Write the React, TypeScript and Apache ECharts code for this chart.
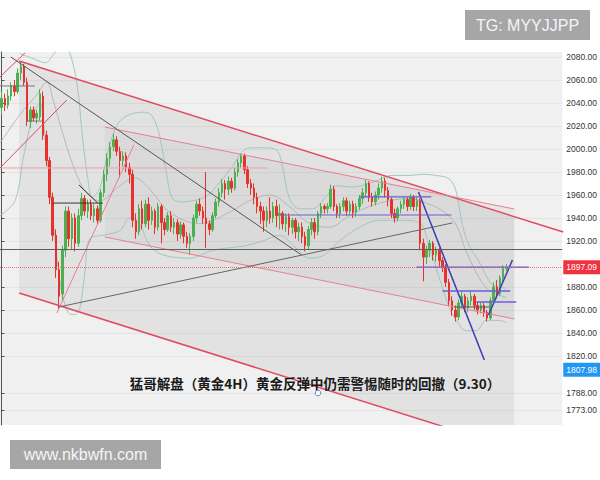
import React, { useEffect, useRef } from "react";
import * as echarts from "echarts";

// ---------- data ----------
const yTickLabels = [2080, 2060, 2040, 2020, 2000, 1980, 1960, 1940, 1920, 1880, 1860, 1840, 1820, 1788, 1773];
const lastPrice = 1897.09;
const alertPrice = 1807.98;
const supportLevel = 1913;
const categoryCount = 176;
const categories = Array.from({ length: categoryCount }, (_, i) => String(i));

// [open, close, low, high]
const candles: number[][] = [
  [2036, 2044, 2030, 2050], [2044, 2038, 2033, 2048], [2038, 2046, 2035, 2052], [2046, 2055, 2042, 2058],
  [2055, 2050, 2046, 2060], [2050, 2066, 2048, 2070], [2066, 2072, 2060, 2076], [2072, 2058, 2055, 2074],
  [2058, 2024, 2020, 2062], [2024, 2034, 2018, 2037], [2034, 2027, 2024, 2037], [2027, 2031, 2022, 2034],
  [2028, 2048, 2025, 2052], [2046, 2012, 2008, 2050], [2012, 1990, 1985, 2016], [1990, 1958, 1952, 1993],
  [1958, 1925, 1920, 1962], [1925, 1895, 1888, 1930], [1895, 1872, 1860, 1902], [1874, 1912, 1868, 1916],
  [1912, 1946, 1906, 1950], [1946, 1922, 1915, 1950], [1922, 1940, 1912, 1944], [1940, 1918, 1911, 1944],
  [1918, 1942, 1915, 1948], [1942, 1957, 1938, 1962], [1957, 1946, 1942, 1960], [1946, 1952, 1940, 1956],
  [1952, 1942, 1938, 1956], [1942, 1948, 1936, 1952], [1948, 1938, 1934, 1951], [1938, 1962, 1936, 1965],
  [1962, 1978, 1958, 1982], [1978, 1992, 1972, 1996], [1992, 2002, 1985, 2006], [2002, 2008, 1998, 2013],
  [2008, 1998, 1994, 2011], [1998, 1990, 1975, 2002], [1990, 1994, 1985, 1998], [1994, 1984, 1980, 1997],
  [1984, 1978, 1970, 1988], [1978, 1938, 1932, 1982], [1938, 1928, 1922, 1944], [1928, 1948, 1925, 1952],
  [1948, 1935, 1930, 1955], [1935, 1952, 1932, 1956], [1952, 1938, 1930, 1958], [1938, 1946, 1934, 1950],
  [1946, 1932, 1926, 1948], [1932, 1950, 1929, 1953], [1950, 1936, 1918, 1952], [1936, 1930, 1925, 1940],
  [1930, 1942, 1928, 1945], [1942, 1932, 1928, 1946], [1932, 1936, 1926, 1940], [1936, 1926, 1920, 1939],
  [1926, 1934, 1922, 1937], [1934, 1924, 1918, 1936], [1924, 1918, 1914, 1928], [1918, 1924, 1908, 1927],
  [1924, 1940, 1920, 1943], [1940, 1952, 1936, 1955], [1952, 1946, 1942, 1957], [1946, 1940, 1935, 1950],
  [1940, 1935, 1914, 1980], [1935, 1930, 1925, 1938], [1930, 1942, 1928, 1945], [1942, 1954, 1940, 1957],
  [1954, 1962, 1950, 1966], [1962, 1970, 1958, 1974], [1970, 1965, 1956, 1973], [1965, 1972, 1960, 1976],
  [1972, 1966, 1962, 1975], [1966, 1980, 1964, 1984], [1980, 1988, 1976, 1991], [1988, 1994, 1984, 1996],
  [1994, 1982, 1978, 1996], [1982, 1970, 1966, 1985], [1970, 1966, 1960, 1974], [1966, 1958, 1952, 1970],
  [1958, 1950, 1944, 1962], [1950, 1946, 1935, 1954], [1946, 1938, 1928, 1950], [1938, 1946, 1932, 1950],
  [1946, 1940, 1935, 1958], [1940, 1950, 1936, 1954], [1950, 1942, 1932, 1956], [1942, 1944, 1930, 1952],
  [1944, 1935, 1930, 1946], [1935, 1941, 1928, 1944], [1941, 1932, 1925, 1944], [1932, 1938, 1926, 1940],
  [1938, 1928, 1922, 1940], [1928, 1932, 1920, 1936], [1932, 1924, 1918, 1936], [1924, 1916, 1911, 1928],
  [1916, 1930, 1913, 1933], [1930, 1936, 1925, 1940], [1936, 1928, 1922, 1940], [1928, 1944, 1925, 1946],
  [1944, 1950, 1940, 1953], [1950, 1948, 1944, 1952], [1948, 1950, 1944, 1953], [1950, 1965, 1948, 1969],
  [1965, 1950, 1946, 1968], [1950, 1944, 1940, 1952], [1944, 1950, 1940, 1953], [1950, 1955, 1946, 1958],
  [1955, 1946, 1942, 1958], [1946, 1952, 1943, 1955], [1952, 1945, 1940, 1955], [1945, 1950, 1941, 1953],
  [1950, 1957, 1947, 1960], [1957, 1962, 1952, 1966], [1962, 1970, 1958, 1973], [1970, 1958, 1954, 1972],
  [1958, 1954, 1950, 1962], [1954, 1960, 1951, 1963], [1960, 1966, 1956, 1970], [1966, 1972, 1962, 1976],
  [1972, 1964, 1958, 1975], [1964, 1956, 1950, 1967], [1956, 1944, 1940, 1958], [1944, 1940, 1936, 1948],
  [1940, 1948, 1937, 1950], [1948, 1952, 1944, 1955], [1952, 1956, 1948, 1958], [1956, 1950, 1946, 1958],
  [1950, 1958, 1947, 1961], [1958, 1950, 1946, 1960], [1950, 1955, 1946, 1958], [1955, 1918, 1912, 1957],
  [1918, 1906, 1885, 1922], [1906, 1912, 1900, 1916], [1912, 1918, 1906, 1921], [1918, 1908, 1903, 1920],
  [1908, 1912, 1902, 1915], [1912, 1903, 1898, 1914], [1903, 1898, 1893, 1906], [1898, 1884, 1880, 1900],
  [1884, 1868, 1864, 1887], [1868, 1860, 1855, 1872], [1860, 1854, 1850, 1864], [1854, 1866, 1851, 1869],
  [1866, 1872, 1862, 1876], [1872, 1862, 1858, 1874], [1862, 1868, 1858, 1871], [1868, 1872, 1864, 1876],
  [1872, 1864, 1860, 1874], [1864, 1860, 1856, 1867], [1860, 1864, 1857, 1867], [1864, 1858, 1854, 1866],
  [1858, 1853, 1850, 1860], [1853, 1868, 1851, 1871], [1868, 1880, 1865, 1884], [1880, 1874, 1870, 1886],
  [1874, 1888, 1872, 1890], [1888, 1896, 1885, 1899], [1896, 1897.09, 1894, 1900],
];

// Bollinger-style bands: [bar index, price]
const upperBand: number[][] = [
  [5.75, 2083], [10.4, 2078], [13.6, 2075], [16.4, 2083], [18.9, 2095], [21.4, 2083], [23.6, 2057], [25.4, 2008],
  [27, 1974], [28.3, 1958], [30.8, 1966], [33.3, 1998], [36.4, 2022], [40.1, 2030], [44.8, 2032], [47.3, 2028],
  [49.5, 2011], [51.7, 1977], [53.3, 1958], [55.8, 1954], [59.8, 1955], [64.2, 1959], [68.3, 1971], [72.3, 1985],
  [75.1, 1997], [77.6, 2001], [82.3, 2001], [86.1, 1999], [87.9, 1985], [90.1, 1957], [93.3, 1948], [97.3, 1948],
  [101.7, 1959], [104.8, 1968], [109.8, 1967], [116.1, 1971], [122.3, 1977], [127.6, 1977], [131.7, 1978],
  [136.1, 1977], [140.1, 1974], [142.3, 1963], [144.2, 1934], [146.4, 1916], [149.5, 1902], [151.7, 1890],
  [153.6, 1882], [158, 1879],
];
const middleBand: number[][] = [
  [-0.5, 2005], [5.75, 2030], [10.4, 2045], [14.2, 2058], [16.1, 2043], [20.4, 2002], [24.5, 1971], [27.6, 1959],
  [30.75, 1955], [37, 1968], [41.7, 1975], [46.4, 1965], [52.6, 1945], [62, 1935], [71.4, 1945], [77.6, 1955],
  [83.9, 1960], [90.1, 1950], [96.4, 1935], [102.6, 1932], [108.9, 1942], [115.1, 1950], [121.4, 1955],
  [127.6, 1957], [133.9, 1952], [138.6, 1945], [142.3, 1934], [145.4, 1911], [149.5, 1888], [152.6, 1877], [158, 1871],
];
const lowerBand: number[][] = [
  [-0.5, 1942], [4.2, 1955], [6.7, 1991], [8.9, 2020], [10.4, 2034], [12, 2040], [13.6, 2010], [15.75, 1950],
  [18.25, 1885], [20.75, 1858], [22.9, 1856], [24.5, 1862], [26.1, 1894], [27.6, 1922], [31.7, 1925], [37, 1929],
  [40.1, 1940], [43.25, 1934], [46.4, 1916], [50.4, 1908], [58.9, 1905], [66.1, 1912], [76.7, 1916], [81.7, 1920],
  [87, 1925], [91.7, 1915], [96.4, 1905], [101.1, 1908], [105.75, 1920], [112, 1932], [118.25, 1938], [124.5, 1938],
  [130.75, 1936], [133.9, 1915], [137, 1888], [140.1, 1862], [142.3, 1851], [145.4, 1842], [148.6, 1842],
  [151.7, 1851], [155.75, 1851], [158, 1849],
];

// drawn annotations: [bar index, price]
const outerChannelArea = [[5.5, 2076.5], [160.5, 1941.2], [160.5, 1760], [136.7, 1760], [5.5, 1874.8]];
const innerChannelArea = [[32.3, 2019.1], [160.5, 1947.8], [160.5, 1852.2], [32.3, 1923.5]];
const outerChannelTop = [[5.5, 2076.5], [175.8, 1927.8]];
const outerChannelBottom = [[5.5, 1874.8], [145, 1752.7]];
const innerChannelTop = [[32.3, 2019.1], [160.5, 1947.8]];
const innerChannelBottom = [[32.3, 1923.5], [160.5, 1852.2]];
const level1983 = [[-0.5, 1983.5], [83.3, 1983.5]];
const redRiseLeft = [[-0.5, 1983.5], [20.4, 2042.6]];
const redRiseMid = [[17.3, 1857.4], [41.4, 2003.5]];
const redSteepTop = [[-0.5, 2062.6], [7.3, 2083.5]];
const darkDown = [[2.9, 2080], [93.9, 1907.8]];
const darkUp = [[17.9, 1862.6], [141.1, 1935.7]];
const triangleBase = [[16.1, 1953], [31.7, 1953]];
const triangleTop = [[24.2, 1968.7], [30.1, 1953]];
const shortTop1 = [[-0.5, 2054.8], [10.4, 2054.8]];
const shortTop2 = [[7.9, 2024.3], [12.6, 2024.3]];
const blueDown = [[130.5, 1962.6], [151.1, 1816.5]];
const blueUp = [[152.4, 1855.7], [159.9, 1903.5]];
const purple1958 = [[112, 1958.3], [134.5, 1958.3]];
const purple1943 = [[87.9, 1942.6], [140.8, 1942.6]];
const purple1897 = [[129.9, 1897.09], [165.1, 1897.09]];
const purple1876 = [[138, 1876.5], [159.2, 1876.5]];
const purple1867 = [[148.6, 1867], [161.1, 1867]];
const purple1863 = [[141.7, 1862.6], [152.6, 1862.6]];

const titleText = "猛哥解盘（黄金4H）黄金反弹中仍需警惕随时的回撤（9.30）";
const tgText = "TG: MYYJJPP";
const siteText = "www.nkbwfn.com";

// ---------- styles ----------
const RED = "#e04a60";
const RED_LIGHT = "#e6808e";
const BLUE = "#3c3cb8";
const PURPLE = "#6a5fd0";
const AXIS_FONT = "'Liberation Sans Narrow', 'Liberation Sans', Arial, sans-serif";

function seg(data: number[][], color: string, width: number, z = 4, type: any = "solid") {
  return {
    type: "line",
    xAxisIndex: 1,
    yAxisIndex: 0,
    data,
    symbol: "none",
    silent: true,
    z,
    lineStyle: { color, width, type },
  };
}

function area(points: number[][], fill: string) {
  return {
    type: "custom",
    xAxisIndex: 1,
    yAxisIndex: 0,
    silent: true,
    clip: true,
    z: 1,
    data: [[0, 1900]],
    renderItem: (_p: any, api: any) => ({
      type: "polygon",
      shape: { points: points.map((pt) => api.coord(pt)) },
      style: { fill },
    }),
  };
}

function band(data: number[][], color: string) {
  return {
    type: "line",
    xAxisIndex: 1,
    yAxisIndex: 0,
    data,
    symbol: "none",
    smooth: 0.35,
    silent: true,
    z: 2,
    lineStyle: { color, width: 0.9 },
  };
}

export default function App() {
  const ref = useRef<HTMLDivElement>(null);
  useEffect(() => {
    if (!ref.current) return;
    const chart = echarts.init(ref.current, null, { renderer: "svg" });
    const priceTag = (bg: string) => ({
      show: true,
      position: "end",
      distance: 1,
      formatter: (p: any) => Number(p.value).toFixed(2),
      backgroundColor: bg,
      color: "#ffffff",
      padding: [3, 3, 2, 3],
      fontSize: 8.5,
      fontFamily: AXIS_FONT,
    });
    chart.setOption({
      animation: false,
      backgroundColor: "#ffffff",
      grid: {
        left: 0,
        right: 37,
        top: 52,
        bottom: 55,
        show: true,
        backgroundColor: "#f0f0f0",
        borderWidth: 0,
      },
      xAxis: [
        { type: "category", data: categories, show: false, boundaryGap: true },
        { type: "value", min: -0.5, max: categoryCount - 0.5, show: false },
      ],
      yAxis: {
        type: "value",
        position: "right",
        min: 1760,
        max: 2084.35,
        interval: 20,
        axisLine: { show: true, lineStyle: { color: "#555", width: 1 } },
        axisTick: { show: true, customValues: yTickLabels, length: 3, lineStyle: { color: "#555" } },
        axisLabel: {
          customValues: yTickLabels,
          formatter: (v: number) => v.toFixed(2),
          fontSize: 8.5,
          color: "#333",
          margin: 4,
          fontFamily: AXIS_FONT,
        },
        splitLine: { show: true, lineStyle: { color: "#e4e4e4", width: 1 } },
      },
      series: [
        area(outerChannelArea, "rgba(0,0,0,0.055)"),
        area(innerChannelArea, "rgba(0,0,0,0.035)"),
        band(upperBand, "#9cc3b9"),
        band(middleBand, "#b2b2b2"),
        band(lowerBand, "#9cc3b9"),
        {
          type: "candlestick",
          xAxisIndex: 0,
          yAxisIndex: 0,
          data: candles,
          barWidth: 2,
          z: 3,
          silent: true,
          itemStyle: {
            color: "#4caf50",
            color0: "#e8302c",
            borderColor: "#4caf50",
            borderColor0: "#e8302c",
            borderWidth: 1,
          },
          markLine: {
            symbol: ["none", "none"],
            silent: true,
            data: [
              { yAxis: supportLevel, lineStyle: { color: "#5e5e5e", width: 1.2, type: "solid" }, label: { show: false } },
              { yAxis: lastPrice, lineStyle: { color: "#e46f7d", width: 1, type: "dotted" }, label: priceTag("#f0313f") },
              { yAxis: alertPrice, lineStyle: { color: "rgba(0,0,0,0)", width: 0 }, label: priceTag("#2196f3") },
            ],
          },
        },
        seg(outerChannelTop, RED, 1.5),
        seg(outerChannelBottom, RED, 1.5),
        seg(innerChannelTop, RED_LIGHT, 1),
        seg(innerChannelBottom, RED_LIGHT, 1),
        seg(level1983, "#eaa1aa", 1),
        seg(redRiseLeft, RED, 1),
        seg(redRiseMid, RED_LIGHT, 1),
        seg(redSteepTop, RED, 1),
        seg(darkDown, "#555", 1),
        seg(darkUp, "#666", 1),
        seg(triangleBase, "#333", 1),
        seg(triangleTop, "#333", 1),
        seg(shortTop1, "#777", 1),
        seg(shortTop2, "#777", 1),
        seg(blueDown, BLUE, 1.5),
        seg(blueUp, BLUE, 1.5),
        seg(purple1958, PURPLE, 1.2),
        seg(purple1943, PURPLE, 1.2),
        seg(purple1897, PURPLE, 1.5),
        seg(purple1876, PURPLE, 1.5),
        seg(purple1867, PURPLE, 1.5),
        seg(purple1863, "#555", 1),
      ],
      graphic: [
        {
          type: "rect",
          shape: { x: 465, y: 10, width: 125, height: 30 },
          style: { fill: "#a6a6a6" },
          z: 100,
        },
        {
          type: "text",
          x: 527.5,
          y: 25,
          z: 101,
          style: {
            text: tgText,
            fill: "#f5f5f5",
            fontSize: 16,
            fontFamily: "'Liberation Sans', Arial, sans-serif",
            align: "center",
            verticalAlign: "middle",
          },
        },
        {
          type: "rect",
          shape: { x: 10, y: 440, width: 151, height: 29 },
          style: { fill: "#a6a6a6" },
          z: 100,
        },
        {
          type: "text",
          x: 85.5,
          y: 454.5,
          z: 101,
          style: {
            text: siteText,
            fill: "#f5f5f5",
            fontSize: 16,
            fontFamily: "'Liberation Sans', Arial, sans-serif",
            align: "center",
            verticalAlign: "middle",
          },
        },
        {
          type: "text",
          x: 315,
          y: 383,
          z: 101,
          style: {
            text: titleText,
            fill: "#1a1a1a",
            fontSize: 13.5,
            fontWeight: "bold",
            fontFamily: "'Noto Sans CJK SC', sans-serif",
            align: "center",
            verticalAlign: "middle",
          },
        },
        {
          type: "circle",
          shape: { cx: 318, cy: 393, r: 2.8 },
          style: { fill: "rgba(255,255,255,0.7)", stroke: "#4a8fd6", lineWidth: 1 },
          z: 101,
        },
      ],
    });
    return () => chart.dispose();
  }, []);
  return (
    <div
      ref={ref}
      style={{ position: "fixed", left: 0, top: 0, width: 600, height: 480, background: "#fff" }}
    />
  );
}
